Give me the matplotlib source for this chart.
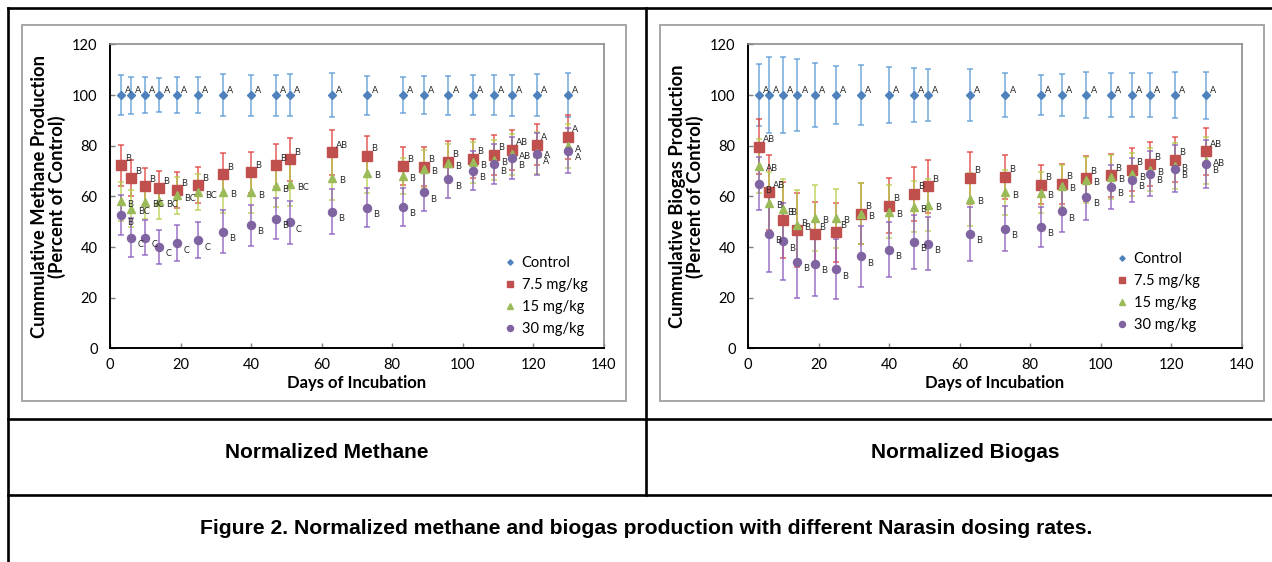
import matplotlib
matplotlib.use('Agg')
import matplotlib.pyplot as plt
from matplotlib.lines import Line2D
from matplotlib.patches import Rectangle

W, H = 1272, 562

days = [3, 6, 10, 14, 19, 25, 32, 40, 47, 51, 63, 73, 83, 89, 96, 103, 109, 114, 121, 130]
series_names = ['Control', '7.5 mg/kg', '15 mg/kg', '30 mg/kg']

# methane, percent of control
ch4_ctrl = [100] * 20
ch4_ctrl_err = [8.0, 7.3, 7.0, 6.8, 7.2, 7.1, 8.3, 8.1, 8.1, 8.3, 8.8, 7.7, 7.2, 7.5, 7.7, 8.0, 8.0, 8.1, 8.3, 8.7]
ch4_75 = [72.2, 67.2, 64.1, 63.3, 62.5, 64.5, 68.8, 69.5, 72.2, 74.6, 77.4, 76.0, 71.9, 71.7, 73.7, 74.9, 76.4, 78.4, 80.4, 83.6]
ch4_75_err = [8.0, 7.2, 7.0, 6.6, 7.0, 7.0, 8.3, 8.0, 8.3, 8.5, 9.0, 7.8, 7.5, 7.7, 8.0, 7.6, 8.0, 8.0, 8.2, 8.7]
ch4_15 = [58.0, 55.2, 57.9, 58.0, 60.4, 61.6, 61.8, 61.6, 64.0, 64.7, 67.4, 69.2, 68.1, 70.9, 73.0, 73.4, 74.3, 76.7, 77.3, 79.8]
ch4_15_err = [7.8, 7.3, 7.0, 6.8, 7.2, 7.1, 8.3, 8.1, 8.1, 8.3, 8.8, 7.7, 7.2, 7.5, 7.7, 8.0, 8.0, 8.1, 8.3, 8.7]
ch4_30 = [52.5, 43.7, 43.7, 40.2, 41.5, 42.6, 46.1, 48.7, 51.1, 49.8, 53.9, 55.6, 55.8, 61.6, 66.8, 70.2, 72.7, 75.0, 76.7, 78.1]
ch4_30_err = [7.9, 7.8, 7.0, 6.7, 7.1, 7.1, 8.4, 8.1, 8.1, 8.4, 8.9, 7.8, 7.4, 7.5, 7.6, 7.8, 8.0, 8.3, 8.4, 9.0]

ch4_ctrl_sig = ['A'] * 20
ch4_75_sig = ['B'] * 10 + ['AB'] + ['B'] * 6 + ['AB', 'A', 'A']
ch4_15_sig = ['B', 'BC', 'BC', 'BC', 'BC', 'BC', 'B', 'B', 'B', 'BC', 'B', 'B', 'B', 'B', 'B', 'B', 'B', 'AB', 'A', 'A']
ch4_30_sig = ['B', 'C', 'C', 'C', 'C', 'C', 'B', 'B', 'B', 'C'] + ['B'] * 8 + ['A', 'A']

# biogas, percent of control
bg_ctrl = [100] * 20
bg_ctrl_err = [12.2, 15.0, 15.0, 14.1, 12.8, 11.6, 12.0, 11.0, 10.5, 10.2, 10.3, 8.8, 8.0, 8.3, 9.0, 8.6, 8.6, 8.6, 9.0, 9.3]
bg_75 = [79.6, 61.7, 50.8, 46.7, 45.0, 45.9, 53.1, 56.4, 61.0, 64.0, 67.4, 67.7, 64.6, 65.0, 67.1, 68.3, 70.6, 72.7, 74.5, 77.8]
bg_75_err = [10.8, 14.8, 15.0, 14.5, 12.8, 11.6, 12.0, 11.0, 10.6, 10.4, 10.3, 8.8, 7.7, 7.9, 8.9, 8.6, 8.4, 8.7, 8.8, 9.3]
bg_15 = [72.0, 57.5, 54.9, 48.7, 51.4, 51.4, 53.1, 54.0, 56.0, 56.6, 58.9, 61.6, 61.5, 64.2, 66.5, 67.7, 68.7, 70.6, 72.1, 74.1]
bg_15_err = [10.5, 12.0, 12.0, 14.0, 13.0, 11.6, 12.0, 10.6, 10.2, 10.4, 10.5, 8.8, 8.0, 8.3, 9.0, 8.6, 8.6, 8.6, 9.0, 9.3]
bg_30 = [65.0, 45.2, 42.3, 34.1, 33.4, 31.3, 36.4, 39.0, 42.0, 41.3, 45.2, 47.3, 48.1, 54.2, 59.8, 63.7, 66.5, 69.0, 70.9, 72.9]
bg_30_err = [10.5, 15.0, 15.2, 14.1, 12.8, 11.7, 12.0, 10.9, 10.7, 10.5, 10.6, 8.8, 7.9, 8.2, 9.1, 8.7, 8.7, 8.8, 9.2, 9.5]

bg_ctrl_sig = ['A'] * 20
bg_75_sig = ['AB', 'AB'] + ['B'] * 17 + ['AB']
bg_15_sig = ['AB'] + ['B'] * 18 + ['AB']
bg_30_sig = ['B'] * 20

colors = ['#4f81bd', '#c0504d', '#9bbb59', '#8064a2']
err_colors = ['#5b9bd5', '#e0403c', '#b4cf4a', '#8a5cc0']
markers = ['D', 's', '^', 'o']
msizes = [3.6, 6.5, 6.0, 5.8]
label_off = [(3, 3.5), (3, 5), (5, -2), (4.5, -5)]

plt.rcParams['font.family'] = ['Lato', 'DejaVu Sans']

fig = plt.figure(figsize=(W / 100, H / 100), dpi=100)


def px_box(x0, y0, x1, y1):
    # pixel box (top-left origin) -> figure fraction [l, b, w, h]
    return [x0 / W, 1 - y1 / H, (x1 - x0) / W, (y1 - y0) / H]


def hline(y, x0, x1):
    fig.add_artist(Line2D([x0 / W, x1 / W], [1 - y / H, 1 - y / H], color='black', lw=1.9))


def vline(x, y0, y1):
    fig.add_artist(Line2D([x / W, x / W], [1 - y0 / H, 1 - y1 / H], color='black', lw=1.9))


def draw_chart(box, frame, ylabel, data, legend_anchor):
    # gray chart-area frame
    fx0, fy0, fx1, fy1 = frame
    fig.add_artist(Rectangle((fx0 / W, 1 - fy1 / H), (fx1 - fx0) / W, (fy1 - fy0) / H,
                             transform=fig.transFigure, fill=False, ec='#a6a6a6', lw=1.4))
    ax = fig.add_axes(px_box(*box))
    for i, (vals, errs, sig) in enumerate(data):
        ax.errorbar(days, vals, yerr=errs, fmt='none', ecolor=err_colors[i], elinewidth=1.1,
                    capsize=2.5, capthick=1.1, alpha=0.85, zorder=2 + i)
        ax.plot(days, vals, ls='none', marker=markers[i], ms=msizes[i], color=colors[i],
                mec=colors[i], zorder=6 + i)
        for d, v, s in zip(days, vals, sig):
            ax.annotate(s, (d, v), xytext=label_off[i], textcoords='offset points',
                        fontsize=6.6, ha='left', va='center', color='#262626', zorder=10)
    ax.set_xlim(0, 140)
    ax.set_ylim(0, 120)
    ax.set_xticks(range(0, 141, 20))
    ax.set_yticks(range(0, 121, 20))
    ax.tick_params(direction='in', length=3.5, width=1, color='#7f7f7f', labelsize=10.5, pad=7)
    ax.tick_params(axis='y', pad=9)
    for side in ['left', 'bottom']:
        ax.spines[side].set_color('black')
        ax.spines[side].set_linewidth(1.4)
    for side in ['top', 'right']:
        ax.spines[side].set_color('#8c8c8c')
        ax.spines[side].set_linewidth(1.2)
    ax.set_xlabel('Days of Incubation', fontsize=12, fontweight='bold', labelpad=2)
    ax.set_ylabel(ylabel, fontsize=13.2, fontweight='bold', labelpad=4, linespacing=1.05)
    handles = [Line2D([], [], ls='none', marker=markers[i], ms=msizes[i] * 0.75, color=colors[i])
               for i in range(4)]
    ax.legend(handles, series_names, loc='lower left', bbox_to_anchor=legend_anchor, frameon=False,
              fontsize=10.5, handlelength=0.6, handletextpad=0.5, labelspacing=0.55, borderaxespad=0)
    return ax


draw_chart((110, 44.4, 603.5, 348.4), (22, 25, 626, 401),
           'Cummulative Methane Production\n(Percent of Control)',
           [(ch4_ctrl, ch4_ctrl_err, ch4_ctrl_sig), (ch4_75, ch4_75_err, ch4_75_sig),
            (ch4_15, ch4_15_err, ch4_15_sig), (ch4_30, ch4_30_err, ch4_30_sig)],
           (0.79, 0.02))
draw_chart((748, 44.4, 1241.5, 348.4), (660, 25, 1264, 401),
           'Cummulative Biogas Production\n(Percent of Control)',
           [(bg_ctrl, bg_ctrl_err, bg_ctrl_sig), (bg_75, bg_75_err, bg_75_sig),
            (bg_15, bg_15_err, bg_15_sig), (bg_30, bg_30_err, bg_30_sig)],
           (0.737, 0.035))

# table grid around the panels
hline(8, 8, W)
hline(419, 8, W)
hline(495, 8, W)
vline(8, 8, H)
vline(646, 8, 495)

cap_font = ['Liberation Sans', 'DejaVu Sans']
fig.text(327 / W, 1 - 452 / H, 'Normalized Methane', ha='center', va='center',
         fontsize=15, fontweight='bold', family=cap_font)
fig.text(965 / W, 1 - 452 / H, 'Normalized Biogas', ha='center', va='center',
         fontsize=15, fontweight='bold', family=cap_font)
fig.text(646 / W, 1 - 529 / H,
         'Figure 2. Normalized methane and biogas production with different Narasin dosing rates.',
         ha='center', va='center', fontsize=15.2, fontweight='bold', family=cap_font)

fig.savefig('out.png', dpi=100)
